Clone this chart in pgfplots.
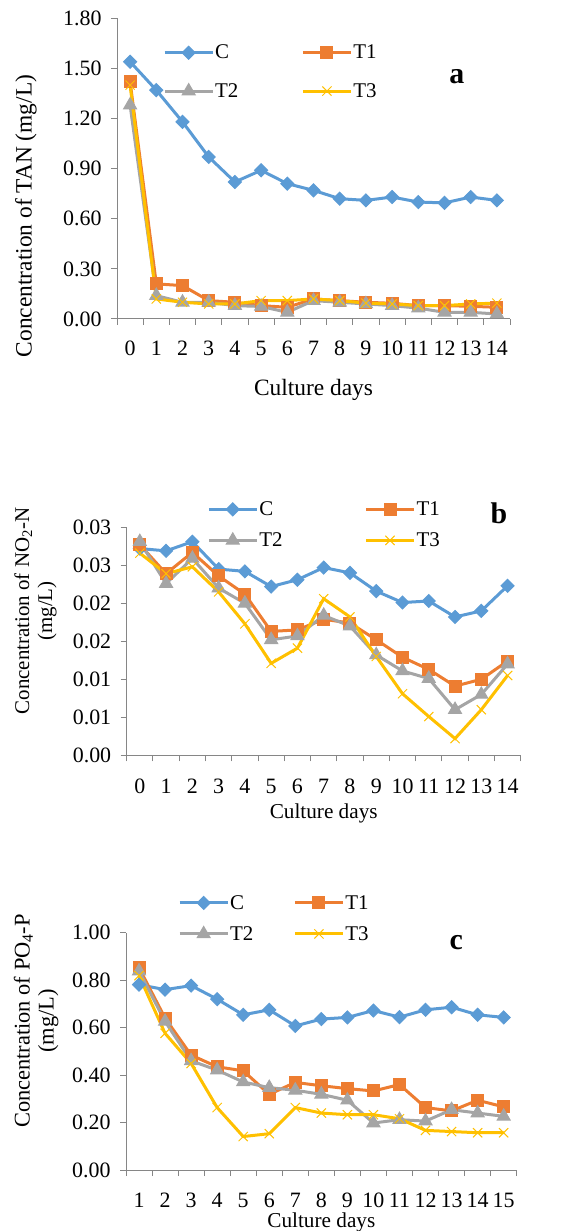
\documentclass[border=0pt]{standalone}
\usepackage{fontspec}
\setmainfont{Liberation Serif}
\usepackage{pgfplots}
\pgfplotsset{compat=1.18}
\definecolor{cC}{HTML}{5B9BD5}
\definecolor{cT1}{HTML}{ED7D31}
\definecolor{cT2}{HTML}{A5A5A5}
\definecolor{cT3}{HTML}{FFC000}
\definecolor{axgray}{HTML}{868686}
\pgfplotsset{
  excel/.style={
    scale only axis,
    clip=false,
    axis lines=left,
    axis line style={-, draw=axgray, line width=1bp},
    tick align=outside,
    tick style={draw=axgray, line width=1bp},
    major tick length=6bp,
    minor tick length=6bp,
    major x tick style={draw=none},
    scaled y ticks=false,
    ticklabel style={font=\fontsize{22}{26}\selectfont},
    yticklabel style={xshift=-6bp},
    legend cell align=left,
    legend columns=2,
    legend image code/.code={\draw[mark repeat=2,mark phase=2] plot coordinates {(0bp,0bp) (24bp,0bp) (48bp,0bp)};},
    legend style={draw=none, fill=none, inner sep=0pt, font=\fontsize{21}{24}\selectfont,
      nodes={inner sep=1bp}},
  },
  sC/.style={color=cC, line width=3bp, mark=square*, mark size=4.6bp, mark options={rotate=45, solid, line width=1bp}},
  sT1/.style={color=cT1, line width=3bp, mark=square*, mark size=6bp, mark options={solid, line width=1bp}},
  sT2/.style={color=cT2, line width=3bp, mark=triangle*, mark size=7.5bp, mark options={solid, line width=1bp}},
  sT3/.style={color=cT3, line width=3bp, mark=x, mark size=6.5bp, mark options={solid, line width=1bp}},
}
\begin{document}
\begin{tikzpicture}
\path[use as bounding box] (0,0) rectangle (581bp,1231bp);
% ---------------- panel a ----------------
\begin{axis}[excel,
  at={(117bp,912bp)}, anchor=south west,
  width=393bp, height=300.7bp,
  xmin=-0.5, xmax=14.5, ymin=0, ymax=1.8,
  xtick={0,1,2,3,4,5,6,7,8,9,10,11,12,13,14},
  xticklabels={0,1,2,3,4,5,6,7,8,9,10,11,12,13,14},
  minor xtick={-0.5,0.5,...,14.5},
  xticklabel style={yshift=-12.5bp},
  ytick={0,0.3,0.6,0.9,1.2,1.5,1.8},
  yticklabels={0.00,0.30,0.60,0.90,1.20,1.50,1.80},
  xlabel={Culture days},
  xlabel style={font=\fontsize{23.5}{26}\selectfont, at={(axis description cs:0.5,-0.235)}, anchor=center},
  ylabel={Concentration of TAN (mg/L)},
  ylabel style={font=\fontsize{23.5}{26}\selectfont, at={(axis description cs:-0.232,0.3425)}, anchor=center},
  legend style={at={(axis description cs:0.117,0.915)}, anchor=north west, row sep=21bp},
  /tikz/every even column/.append style={column sep=62bp},
]
\addplot[sC] coordinates {(0,1.54)(1,1.37)(2,1.18)(3,0.97)(4,0.82)(5,0.89)(6,0.81)(7,0.77)(8,0.72)(9,0.71)(10,0.73)(11,0.70)(12,0.695)(13,0.73)(14,0.71)};
\addlegendentry{C}
\addplot[sT1] coordinates {(0,1.42)(1,0.21)(2,0.20)(3,0.11)(4,0.10)(5,0.08)(6,0.07)(7,0.12)(8,0.11)(9,0.10)(10,0.094)(11,0.08)(12,0.08)(13,0.076)(14,0.07)};
\addlegendentry{T1}
\addplot[sT2] coordinates {(0,1.28)(1,0.14)(2,0.10)(3,0.10)(4,0.08)(5,0.075)(6,0.04)(7,0.11)(8,0.10)(9,0.09)(10,0.08)(11,0.065)(12,0.04)(13,0.04)(14,0.03)};
\addlegendentry{T2}
\addplot[sT3] coordinates {(0,1.40)(1,0.12)(2,0.10)(3,0.09)(4,0.09)(5,0.11)(6,0.11)(7,0.12)(8,0.11)(9,0.095)(10,0.09)(11,0.08)(12,0.08)(13,0.09)(14,0.095)};
\addlegendentry{T3}
\node[font=\fontsize{30}{32}\selectfont\bfseries] at (axis description cs:0.865,0.805) {a};
\end{axis}
% ---------------- panel b ----------------
\begin{axis}[excel,
  at={(126.7bp,475.7bp)}, anchor=south west,
  width=394bp, height=228bp,
  xmin=-0.5, xmax=14.5, ymin=0, ymax=0.03,
  xtick={0,1,2,3,4,5,6,7,8,9,10,11,12,13,14},
  xticklabels={0,1,2,3,4,5,6,7,8,9,10,11,12,13,14},
  minor xtick={-0.5,0.5,...,14.5},
  xticklabel style={yshift=-14bp},
  ytick={0,0.005,0.01,0.015,0.02,0.025,0.03},
  yticklabels={0.00,0.01,0.01,0.02,0.02,0.03,0.03},
  xlabel={Culture days},
  xlabel style={font=\fontsize{21.3}{24}\selectfont, at={(axis description cs:0.5,-0.256)}, anchor=center},
  ylabel={Concentration of NO\textsubscript{2}-N\\(mg/L)},
  ylabel style={font=\fontsize{21}{23}\selectfont, align=center, at={(axis description cs:-0.2315,0.633)}, anchor=center},
  legend style={at={(axis description cs:0.204,1.1175)}, anchor=north west, row sep=13.6bp},
  /tikz/every even column/.append style={column sep=81bp},
]
\addplot[sC] coordinates {(0,0.0272)(1,0.0269)(2,0.0281)(3,0.0245)(4,0.0242)(5,0.0222)(6,0.0231)(7,0.0247)(8,0.0240)(9,0.0216)(10,0.0201)(11,0.0203)(12,0.0182)(13,0.0190)(14,0.0223)};
\addlegendentry{C}
\addplot[sT1] coordinates {(0,0.0277)(1,0.0239)(2,0.0267)(3,0.0236)(4,0.0212)(5,0.0163)(6,0.0165)(7,0.0179)(8,0.0174)(9,0.0152)(10,0.0129)(11,0.0113)(12,0.0091)(13,0.0100)(14,0.0124)};
\addlegendentry{T1}
\addplot[sT2] coordinates {(0,0.0281)(1,0.0226)(2,0.0259)(3,0.0220)(4,0.0200)(5,0.0152)(6,0.0157)(7,0.0184)(8,0.0170)(9,0.0132)(10,0.0111)(11,0.0101)(12,0.0060)(13,0.0080)(14,0.0120)};
\addlegendentry{T2}
\addplot[sT3] coordinates {(0,0.0266)(1,0.0239)(2,0.0248)(3,0.0215)(4,0.0173)(5,0.0121)(6,0.0141)(7,0.0206)(8,0.0182)(9,0.0130)(10,0.0081)(11,0.0051)(12,0.0022)(13,0.0060)(14,0.0105)};
\addlegendentry{T3}
\node[font=\fontsize{30}{32}\selectfont\bfseries] at (axis description cs:0.945,1.062) {b};
\end{axis}
% ---------------- panel c ----------------
\begin{axis}[excel,
  at={(126bp,61bp)}, anchor=south west,
  width=390.7bp, height=237.3bp,
  xmin=0.5, xmax=15.5, ymin=0, ymax=1,
  xtick={1,2,3,4,5,6,7,8,9,10,11,12,13,14,15},
  xticklabels={1,2,3,4,5,6,7,8,9,10,11,12,13,14,15},
  minor xtick={0.5,1.5,...,15.5},
  xticklabel style={yshift=-13.5bp},
  ytick={0,0.2,0.4,0.6,0.8,1.0},
  yticklabels={0.00,0.20,0.40,0.60,0.80,1.00},
  xlabel={Culture days},
  xlabel style={font=\fontsize{21.3}{24}\selectfont, at={(axis description cs:0.5,-0.223)}, anchor=center},
  ylabel={Concentration of PO\textsubscript{4}-P\\(mg/L)},
  ylabel style={font=\fontsize{22.5}{24}\selectfont, align=center, at={(axis description cs:-0.230,0.628)}, anchor=center},
  legend style={at={(axis description cs:0.133,1.163)}, anchor=north west, row sep=13.7bp},
  /tikz/every even column/.append style={column sep=39bp},
]
\addplot[sC] coordinates {(1,0.781)(2,0.760)(3,0.777)(4,0.720)(5,0.654)(6,0.675)(7,0.607)(8,0.636)(9,0.643)(10,0.672)(11,0.644)(12,0.675)(13,0.686)(14,0.654)(15,0.643)};
\addlegendentry{C}
\addplot[sT1] coordinates {(1,0.852)(2,0.640)(3,0.484)(4,0.435)(5,0.418)(6,0.319)(7,0.369)(8,0.355)(9,0.343)(10,0.333)(11,0.360)(12,0.263)(13,0.249)(14,0.294)(15,0.266)};
\addlegendentry{T1}
\addplot[sT2] coordinates {(1,0.838)(2,0.626)(3,0.460)(4,0.421)(5,0.371)(6,0.347)(7,0.336)(8,0.319)(9,0.294)(10,0.198)(11,0.212)(12,0.206)(13,0.254)(14,0.240)(15,0.226)};
\addlegendentry{T2}
\addplot[sT3] coordinates {(1,0.819)(2,0.576)(3,0.449)(4,0.263)(5,0.141)(6,0.153)(7,0.263)(8,0.240)(9,0.233)(10,0.233)(11,0.216)(12,0.167)(13,0.162)(14,0.157)(15,0.157)};
\addlegendentry{T3}
\node[font=\fontsize{30}{32}\selectfont\bfseries] at (axis description cs:0.845,0.957) {c};
\end{axis}
\end{tikzpicture}
\end{document}
